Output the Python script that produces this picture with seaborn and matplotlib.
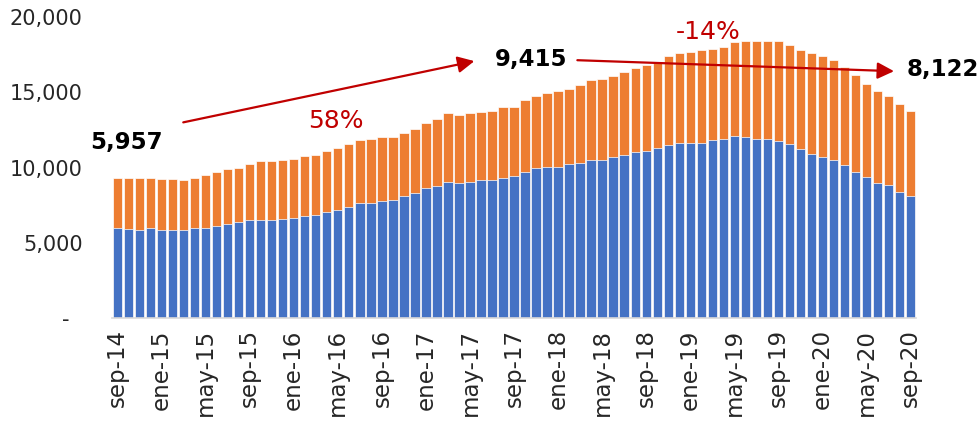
import matplotlib
matplotlib.use("Agg")
import matplotlib.pyplot as plt
import seaborn as sns
import pandas as pd

# Monthly series, sep-14 .. sep-20
month_abbr = ["ene", "feb", "mar", "abr", "may", "jun",
              "jul", "ago", "sep", "oct", "nov", "dic"]
months = [f"{month_abbr[(8 + i) % 12]}-{14 + (8 + i) // 12}" for i in range(73)]

blue = [5957, 5930, 5870, 5950, 5870, 5870, 5870, 5950, 5950, 6130,
        6220, 6400, 6490, 6490, 6490, 6560, 6670, 6760, 6820, 7020,
        7200, 7360, 7640, 7640, 7760, 7820, 8090, 8290, 8640, 8800,
        9070, 8980, 9070, 9160, 9160, 9330, 9415, 9690, 9960, 10040,
        10040, 10220, 10290, 10490, 10490, 10670, 10840, 11020, 11100, 11290,
        11470, 11640, 11640, 11640, 11800, 11890, 12070, 12000, 11890, 11890,
        11730, 11560, 11200, 10930, 10690, 10490, 10160, 9690, 9360, 8980,
        8820, 8360, 8122]

orange = [3373, 3400, 3460, 3380, 3370, 3370, 3290, 3380, 3560, 3560,
          3650, 3560, 3730, 3910, 3910, 3930, 3910, 4000, 4020, 4090,
          4090, 4200, 4180, 4270, 4240, 4180, 4180, 4240, 4340, 4440,
          4530, 4530, 4530, 4530, 4620, 4710, 4625, 4800, 4800, 4890,
          5070, 4980, 5180, 5330, 5420, 5420, 5520, 5600, 5740, 5730,
          5950, 5960, 6050, 6140, 6070, 6150, 6240, 6400, 6510, 6510,
          6670, 6570, 6580, 6670, 6730, 6670, 6550, 6490, 6200, 6130,
          5940, 5860, 5658]

total = [b + o for b, o in zip(blue, orange)]
df = pd.DataFrame({"mes": months, "azul": blue, "total": total})

BLUE = "#4472C4"
ORANGE = "#ED7D31"
RED = "#C00000"
TXT = "#262626"

sns.set_style("white")
plt.rcParams["font.family"] = ["DejaVu Sans"]

fig = plt.figure(figsize=(9.79, 4.22), dpi=100)
ax = fig.add_axes([0.1144, 0.2464, 0.8213, 0.7133])

sns.barplot(data=df, x="mes", y="total", color=ORANGE, saturation=1,
            width=0.85, edgecolor="white", linewidth=0.5, ax=ax)
sns.barplot(data=df, x="mes", y="azul", color=BLUE, saturation=1,
            width=0.85, edgecolor="white", linewidth=0.5, ax=ax)

ax.set_xlim(-0.5, len(months) - 0.5)
ax.set_ylim(0, 20000)
ax.set_xlabel("")
ax.set_ylabel("")

# x axis: labels every four months, tick marks on the bar boundaries
label_pos = list(range(0, len(months), 4))
ax.set_xticks(label_pos, labels=[months[i] for i in label_pos],
              rotation=90, fontsize=16.5, color=TXT)
ax.set_xticks([i - 0.5 for i in label_pos], minor=True)
ax.tick_params(axis="x", which="major", length=0, pad=8)
ax.tick_params(axis="x", which="minor", length=6, width=1.2, color="#D9D9D9")

# y axis
yticks = [0, 5000, 10000, 15000, 20000]
ax.set_yticks(yticks, labels=["-  " if v == 0 else f"{v:,}" for v in yticks],
              fontsize=15, color=TXT)
ax.tick_params(axis="y", length=0, pad=21)

for side in ["top", "right", "left"]:
    ax.spines[side].set_visible(False)
ax.spines["bottom"].set_color("#D9D9D9")
ax.spines["bottom"].set_linewidth(1.2)

# value callouts and growth arrows
i0, i1, i2 = 0, 36, 72
bold = dict(fontsize=16.5, fontweight="bold", color="black",
            ha="center", va="center", clip_on=False)
ax.text(0.8, 11670, f"{blue[i0]:,}", **bold)
ax.text(37.55, 17200, f"{blue[i1]:,}", **bold)
ax.text(74.9, 16530, f"{blue[i2]:,}", **bold)

arrow = dict(arrowstyle="-|>,head_length=1.0,head_width=0.5",
             color=RED, lw=1.6, shrinkA=0, shrinkB=0)
ax.annotate("", xy=(32.4, 17070), xytext=(5.97, 13000), arrowprops=arrow)
ax.annotate("", xy=(70.5, 16400), xytext=(41.75, 17130), arrowprops=arrow,
            annotation_clip=False)

g1 = round((blue[i1] / blue[i0] - 1) * 100)
g2 = round((blue[i2] / blue[i1] - 1) * 100)
ax.text(19.8, 13070, f"{g1}%", fontsize=18, color=RED, ha="center", va="center")
ax.text(53.6, 19000, f"{g2}%", fontsize=18, color=RED, ha="center", va="center")

fig.savefig("out.png", dpi=100)
